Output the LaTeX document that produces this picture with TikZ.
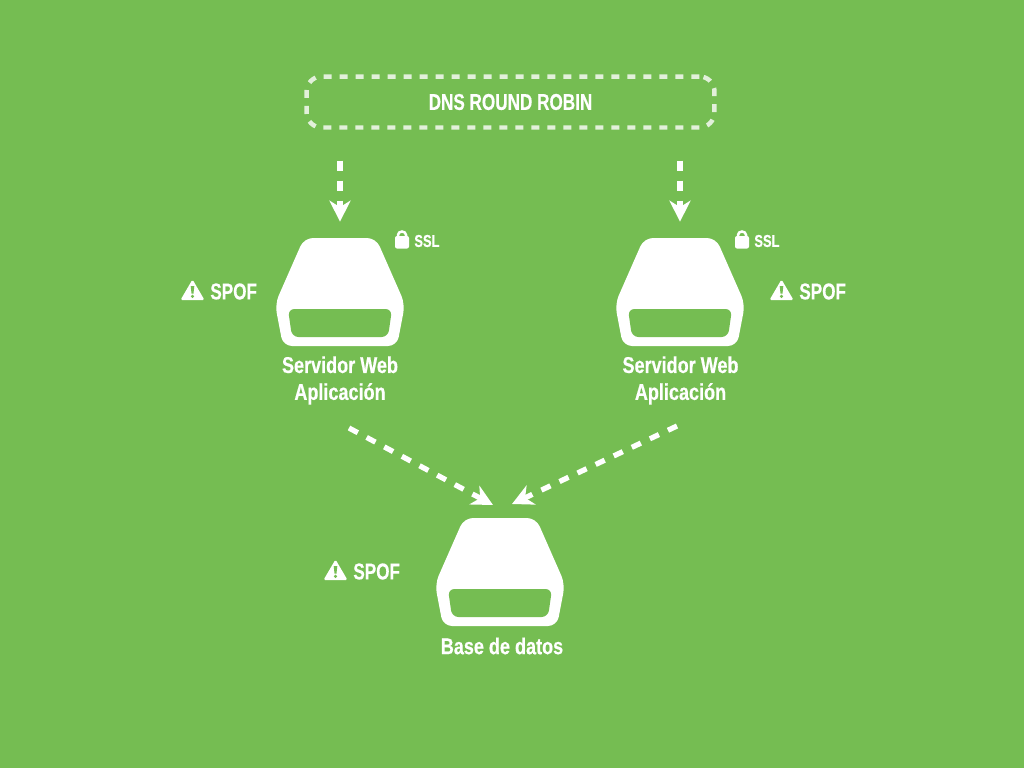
\documentclass[tikz,border=0pt]{standalone}
\usepackage{xcolor}
\usepackage{fontspec}
\setmainfont{Liberation Sans}[FakeStretch=0.79, BoldFeatures={FakeStretch=0.79, FakeBold=0.5}]
\newfontfamily\capsfont{Liberation Sans}[FakeStretch=0.75, BoldFeatures={FakeStretch=0.75, FakeBold=0.5}]
\usetikzlibrary{positioning, arrows.meta}
\definecolor{BgGreen}{HTML}{75BD52}
\definecolor{DashWhite}{HTML}{E2F0DA}

\begin{document}
\begin{tikzpicture}[
            x=0.02cm, y=-0.02cm,
            hub/.style={minimum width=2.56cm, minimum height=2.16cm, inner sep=0pt},
            dnsbox/.style={draw=DashWhite, line width=0.09cm, rounded corners=0.3cm, dash pattern=on 0.16cm off 0.16cm, minimum width=8.16cm, minimum height=1.02cm, inner sep=0pt, text=white, font=\fontsize{13}{15}\selectfont\capsfont\bfseries},
            title/.style={text=white, align=center, inner sep=0pt, font=\fontsize{13}{15.3}\selectfont\bfseries},
            spof/.style={text=white, anchor=west, inner sep=0pt, font=\fontsize{13}{15}\selectfont\capsfont\bfseries},
            ssl/.style={text=white, anchor=west, inner sep=0pt, font=\fontsize{9.8}{12}\selectfont\capsfont\bfseries},
            flow/.style={draw=white, line width=0.105cm, dash pattern=on 0.2cm off 0.2cm, -{Stealth[length=0.42cm, width=0.42cm, inset=0.13cm]}},
            drive/.pic={
                \fill[white, rounded corners=0.18cm] (-36,-54) -- (36,-54) -- (65,12) -- (57,54) -- (-57,54) -- (-65,12) -- cycle;
                \fill[BgGreen, rounded corners=0.13cm] (-52,17) -- (52,17) -- (48,45) -- (-48,45) -- cycle;
            },
            warn/.pic={
                \fill[white, rounded corners=0.03cm] (0,-10.5) -- (12,10) -- (-12,10) -- cycle;
                \fill[BgGreen] (-1.8,-4) -- (1.8,-4) -- (1,3.5) -- (-1,3.5) -- cycle;
                \fill[BgGreen] (0,6.4) circle (1.7);
            },
            lock/.pic={
                \fill[white, rounded corners=0.04cm] (-7,-4) rectangle (7,8.5);
                \draw[white, line width=0.05cm] (-4,-3) -- (-4,-5) arc[start angle=180, end angle=0, x radius=4, y radius=-3.5] -- (4,-3);
            }
        ]

            \fill[BgGreen] (0,0) rectangle (1024,768);

            \node[dnsbox] (dns) at (510.5,102) {DNS ROUND ROBIN};

            % servidor izquierdo
            \node[hub] (webA) at (340,292) {};
            \pic at (webA) {drive};
            \node[title] (appA) at (340,380.5) {Servidor Web\\Aplicación};
            \pic at (192.5,290) {warn};
            \node[spof] (spofA) at (210,291.5) {SPOF};
            \pic at (402,240) {lock};
            \node[ssl] (sslA) at (414,241) {SSL};

            % servidor derecho
            \node[hub] (webB) at (680,292) {};
            \pic at (webB) {drive};
            \node[title] (appB) at (680.5,380.5) {Servidor Web\\Aplicación};
            \pic at (781.5,290) {warn};
            \node[spof] (spofB) at (799,291.5) {SPOF};
            \pic at (742,240) {lock};
            \node[ssl] (sslB) at (754,241) {SSL};

            % base de datos
            \node[hub] (db) at (500,572) {};
            \pic at (db) {drive};
            \node[title] (dbname) at (502,646) {Base de datos};
            \pic at (335.5,570) {warn};
            \node[spof] (spofC) at (353,571.5) {SPOF};

            \coordinate (outA) at (349,428);
            \coordinate (inA) at (493,505);
            \coordinate (outB) at (677,426);
            \coordinate (inB) at (512,504);

            \draw[flow, shorten <=0.62cm, shorten >=0.32cm] (dns.south -| webA) -- (webA.north);
            \draw[flow, shorten <=0.62cm, shorten >=0.32cm] (dns.south -| webB) -- (webB.north);
            \draw[flow] (outA) -- (inA);
            \draw[flow] (outB) -- (inB);

        \end{tikzpicture}
\end{document}
